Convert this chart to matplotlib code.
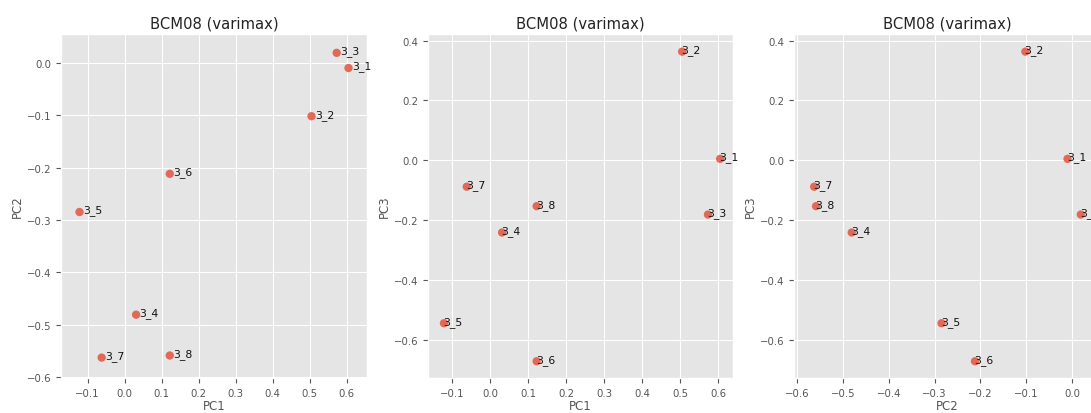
import matplotlib
matplotlib.use("Agg")
import matplotlib.pyplot as plt

plt.style.use("ggplot")

# loadings
labels = ["3_1", "3_2", "3_3", "3_4", "3_5", "3_6", "3_7", "3_8"]
pc1 = [0.605, 0.505, 0.573, 0.031, -0.122, 0.122, -0.062, 0.122]
pc2 = [-0.010, -0.102, 0.019, -0.481, -0.285, -0.212, -0.563, -0.559]
pc3 = [0.005, 0.363, -0.181, -0.241, -0.544, -0.671, -0.088, -0.153]

fig = plt.figure(figsize=(10.91, 4.14), dpi=100)

# axes boxes (third one runs off the right edge like the original crop)
boxes = [
    [0.0559, 0.0845, 0.2805, 0.831],
    [0.3923, 0.0845, 0.2796, 0.831],
    [0.7278, 0.0845, 0.2805, 0.831],
]

panels = [
    (pc1, pc2, "PC1", "PC2", (-0.172, 0.655), (-0.602, 0.055), 2.5),
    (pc1, pc3, "PC1", "PC3", (-0.164, 0.639), (-0.727, 0.422), -0.5),
    (pc2, pc3, "PC2", "PC3", (-0.607, 0.061), (-0.727, 0.422), -0.5),
]

for box, (xs, ys, xl, yl, xlim, ylim, dx) in zip(boxes, panels):
    ax = fig.add_axes(box)
    ax.scatter(xs, ys, s=36, color="#E24A33", alpha=0.8, edgecolors="none", zorder=3)
    for lab, x, y in zip(labels, xs, ys):
        ax.annotate(lab, (x, y), xytext=(dx, 1.5), textcoords="offset points",
                    va="center", ha="left", fontsize=7.8, color="#111111",
                    clip_on=False, zorder=4)
    ax.set_xlim(*xlim)
    ax.set_ylim(*ylim)
    ax.set_xlabel(xl, fontsize=8.5, color="#555555", labelpad=1)
    ax.set_ylabel(yl, fontsize=8.5, color="#555555", labelpad=2)
    ax.set_title("BCM08 (varimax)", fontsize=10.6, color="#222222", pad=5)
    ax.tick_params(labelsize=7.3, colors="#555555")
    if xl == "PC1":
        ax.set_xticks([-0.1, 0.0, 0.1, 0.2, 0.3, 0.4, 0.5, 0.6])
    else:
        ax.set_xticks([-0.6, -0.5, -0.4, -0.3, -0.2, -0.1, 0.0])
    if yl == "PC2":
        ax.set_yticks([0.0, -0.1, -0.2, -0.3, -0.4, -0.5, -0.6])
    else:
        ax.set_yticks([0.4, 0.2, 0.0, -0.2, -0.4, -0.6])

fig.savefig("out.png", dpi=100)
